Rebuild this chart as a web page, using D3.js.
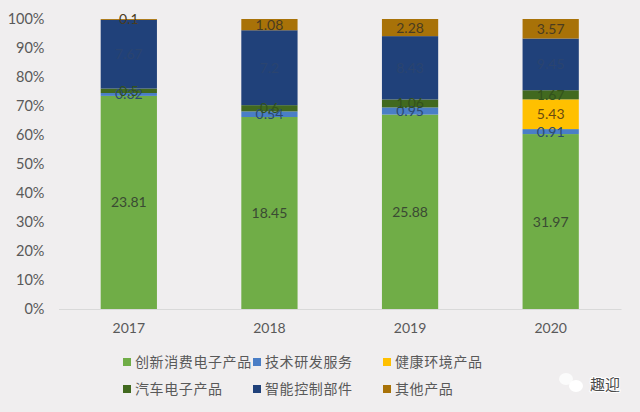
<!DOCTYPE html>
<html>
<head>
<meta charset="utf-8">
<script src="https://cdn.jsdelivr.net/npm/d3@7"></script>
<style>
html, body { margin: 0; padding: 0; background: #f0eeef; }
svg { display: block; }
text { font-family: Lato, "Noto Sans CJK SC", sans-serif; }
</style>
</head>
<body>
<div id="chart-area"></div>
<script>
// values
var years = ["2017", "2018", "2019", "2020"];
var seriesNames = ["创新消费电子产品", "技术研发服务", "健康环境产品", "汽车电子产品", "智能控制部件", "其他产品"];
var colors = ["#70ad47", "#4a7ec6", "#ffc000", "#41691f", "#20417a", "#a87208"];
// labels sit dark on the bar, nearly lost on the two dark series
var labelColors = ["#3a4a33", "#2c4a70", "#6b4a10", "#33521c", "#2a4470", "#4a3c20"];
var consumer = [23.81, 18.45, 25.88, 31.97];
var research = [0.32, 0.54, 0.95, 0.91];
var health = [0, 0, 0, 5.43];
var auto = [0.5, 0.6, 1.06, 1.67];
var control = [7.67, 7.2, 8.43, 9.45];
var other = [0.1, 1.08, 2.28, 3.57];
var yTicks = [0, 0.1, 0.2, 0.3, 0.4, 0.5, 0.6, 0.7, 0.8, 0.9, 1];

var allSeries = [consumer, research, health, auto, control, other];

var svg = d3.select("#chart-area")
    .append("svg")
    .attr("width", 640)
    .attr("height", 412);

var x = d3.scaleBand().domain(years).range([58.5, 621]).paddingInner(0.6).paddingOuter(0.3);
var y = d3.scaleLinear().domain([0, 1]).range([309, 19]);

// table for d3.stack
var table = years.map(function (year, i) {
    var row = { year: year };
    seriesNames.forEach(function (name, s) {
        row[name] = allSeries[s][i];
    });
    return row;
});

var stacked = d3.stack().keys(seriesNames).offset(d3.stackOffsetExpand)(table);

// bars
var groups = svg.selectAll("g.series")
    .data(stacked)
    .enter()
    .append("g")
    .attr("class", "series");

groups.selectAll("rect")
    .data(function (d) { return d; })
    .enter()
    .append("rect")
    .attr("x", function (d) { return x(d.data.year); })
    .attr("y", function (d) { return y(d[1]); })
    .attr("width", x.bandwidth())
    .attr("height", function (d) { return y(d[0]) - y(d[1]); })
    .attr("fill", function (d) { return colors[seriesNames.indexOf(d3.select(this.parentNode).datum().key)]; });

// value labels on top of all the bars, skip the empty ones
var labelGroups = svg.selectAll("g.labels")
    .data(stacked)
    .enter()
    .append("g")
    .attr("class", "labels")
    .attr("fill", function (d, i) { return labelColors[i]; });

labelGroups.selectAll("text")
    .data(function (d) {
        return d.map(function (p) { return { p: p, key: d.key }; })
            .filter(function (o) { return o.p.data[o.key] > 0; });
    })
    .enter()
    .append("text")
    .attr("x", function (o) { return x(o.p.data.year) + x.bandwidth() / 2; })
    .attr("y", function (o) { return y((o.p[0] + o.p[1]) / 2) + 5; })
    .attr("text-anchor", "middle")
    .attr("font-size", 14)
    .text(function (o) { return o.p.data[o.key]; });

// axes
var yAxis = d3.axisLeft(y).tickValues(yTicks).tickFormat(d3.format(".0%")).tickSize(0).tickPadding(0);
svg.append("g")
    .attr("transform", "translate(44.5,0)")
    .call(yAxis)
    .call(function (g) { g.select(".domain").remove(); })
    .selectAll("text")
    .attr("font-size", 14.5)
    .attr("fill", "#595959");

var xAxis = d3.axisBottom(x).tickSize(0).tickPadding(14);
svg.append("g")
    .attr("transform", "translate(0,309)")
    .call(xAxis)
    .call(function (g) { g.select(".domain").attr("stroke", "#d9d9d9"); })
    .selectAll("text")
    .attr("font-size", 14)
    .attr("fill", "#595959");

// legend
var legendX = d3.scalePoint().domain([0, 1, 2]).range([123, 383]);
var legendY = d3.scalePoint().domain([0, 1]).range([362, 389]);

var legend = svg.selectAll("g.legend")
    .data(seriesNames)
    .enter()
    .append("g")
    .attr("class", "legend")
    .attr("transform", function (d, i) {
        return "translate(" + legendX(i % 3) + "," + legendY(Math.floor(i / 3)) + ")";
    });

legend.append("rect")
    .attr("x", 0)
    .attr("y", -4)
    .attr("width", 8)
    .attr("height", 8)
    .attr("fill", function (d, i) { return colors[i]; });

legend.append("text")
    .attr("x", 12)
    .attr("y", 5)
    .attr("font-size", 14)
    .attr("letter-spacing", 0.6)
    .attr("fill", "#595959")
    .text(function (d) { return d; });

// watermark: two chat bubbles and the account name
svg.append("ellipse")
    .attr("cx", 566).attr("cy", 379).attr("rx", 7).attr("ry", 6)
    .attr("fill", "#fbfbfb");
svg.append("ellipse")
    .attr("cx", 576).attr("cy", 386).attr("rx", 7).attr("ry", 6)
    .attr("fill", "#ffffff");

svg.append("text")
    .attr("x", 590)
    .attr("y", 390)
    .attr("font-size", 15)
    .attr("fill", "#4a4a4a")
    .attr("stroke", "#ffffff")
    .attr("stroke-width", 2)
    .attr("paint-order", "stroke")
    .text("趣迎");
</script>
</body>
</html>
